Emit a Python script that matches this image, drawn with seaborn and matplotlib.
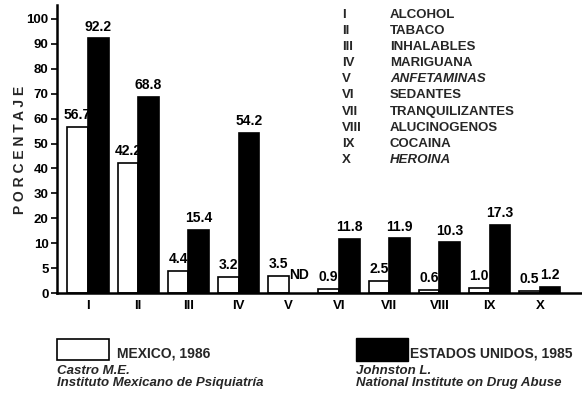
import numpy as np
import pandas as pd
import matplotlib
matplotlib.use("Agg")
import matplotlib.pyplot as plt
from matplotlib.patches import Rectangle
import seaborn as sns

# ---- data ----
categories = ["I", "II", "III", "IV", "V", "VI", "VII", "VIII", "IX", "X"]
mexico = [56.7, 42.2, 4.4, 3.2, 3.5, 0.9, 2.5, 0.6, 1.0, 0.5]
usa = [92.2, 68.8, 15.4, 54.2, np.nan, 11.8, 11.9, 10.3, 17.3, 1.2]
series_names = ["MEXICO, 1986", "ESTADOS UNIDOS, 1985"]
drug_names = ["ALCOHOL", "TABACO", "INHALABLES", "MARIGUANA", "ANFETAMINAS",
              "SEDANTES", "TRANQUILIZANTES", "ALUCINOGENOS", "COCAINA", "HEROINA"]
italic_drugs = ["ANFETAMINAS", "HEROINA"]
y_ticks = [0, 5, 10, 20, 30, 40, 50, 60, 70, 80, 90, 100]
sources = [("Castro M.E.", "Instituto Mexicano de Psiquiatría"),
           ("Johnston L.", "National Institute on Drug Abuse")]

df = pd.DataFrame({
    "cat": categories * 2,
    "val": mexico + usa,
    "serie": [series_names[0]] * len(categories) + [series_names[1]] * len(categories),
})

sns.set_theme(style="white")
plt.rcParams["font.family"] = ["Liberation Sans", "DejaVu Sans"]
plt.rcParams["font.weight"] = "bold"

W, H = 582, 401
fig = plt.figure(figsize=(W / 100, H / 100), dpi=100)
ax = fig.add_axes([57 / W, 1 - 293 / H, 1 - 57 / W, (293 - 5) / H])


def fwd(v):
    v = np.asarray(v, dtype=float)
    return np.where(v <= 10, v / 5.0, 2.0 + (v - 10.0) / 10.0)


def inv(u):
    u = np.asarray(u, dtype=float)
    return np.where(u <= 2, u * 5.0, 10.0 + (u - 2.0) * 10.0)


ax.set_yscale("function", functions=(fwd, inv))

sns.barplot(data=df, x="cat", y="val", hue="serie", order=categories,
            hue_order=series_names,
            palette={series_names[0]: "white", series_names[1]: "black"},
            edgecolor="black", linewidth=1.2, width=0.82, gap=0.0,
            ax=ax, legend=False, errorbar=None)

# value labels
for cont in ax.containers:
    for bar in cont.patches:
        h = bar.get_height()
        if np.isnan(h):
            continue
        ax.annotate(f"{h:.1f}", (bar.get_x() + bar.get_width() / 2, h),
                    xytext=(0, 3.5), textcoords="offset points",
                    ha="center", va="bottom", fontsize=10, color="black",
                    fontweight="bold")
# ND label for missing value
for i, v in enumerate(usa):
    if np.isnan(v):
        ax.annotate("ND", (i + 0.2, 0), xytext=(0, 8), textcoords="offset points",
                    ha="center", va="bottom", fontsize=10, color="black",
                    fontweight="bold")

ax.set_ylim(0, 105.6)
ax.set_xlim(-0.617, 9.84)
ax.set_yticks(y_ticks)
ax.set_yticklabels([str(t) for t in y_ticks], fontweight="bold")
ax.set_xticks(range(len(categories)))
ax.set_xticklabels(categories, fontweight="bold")
ax.tick_params(axis="y", left=True, length=4, width=1.2, pad=2, labelsize=9.5,
               color="black", labelcolor="black", direction="out")
ax.tick_params(axis="x", bottom=False, length=0, pad=5, labelsize=9.5, labelcolor="black")
ax.set_xlabel("")
ax.set_ylabel("")
for s in ["top", "right"]:
    ax.spines[s].set_visible(False)
for s in ["left", "bottom"]:
    ax.spines[s].set_color("black")
    ax.spines[s].set_linewidth(1.8)

# vertical y label
fig.text(20 / W, 1 - 150 / H, "P O R C E N T A J E", rotation=90, ha="center",
         va="center", fontsize=10, fontweight="bold")

# drug key, top right
for k, (num, name) in enumerate(zip(categories, drug_names)):
    y = 1 - (15 + k * 16.1) / H
    fig.text(342 / W, y, num, ha="left", va="center", fontsize=9.5, fontweight="bold")
    fig.text(390 / W, y, name, ha="left", va="center", fontsize=9.5, fontweight="bold",
             style="italic" if name in italic_drugs else "normal")

# bottom legend
fig.patches.append(Rectangle((57 / W, 1 - 360 / H), 52 / W, 21 / H,
                             transform=fig.transFigure, facecolor="white",
                             edgecolor="black", linewidth=1.2))
fig.patches.append(Rectangle((356 / W, 1 - 361 / H), 52 / W, 23 / H,
                             transform=fig.transFigure, facecolor="black",
                             edgecolor="black", linewidth=1.0))
fig.text(117 / W, 1 - 353 / H, series_names[0], ha="left", va="center", fontsize=10,
         fontweight="bold")
fig.text(410 / W, 1 - 353 / H, series_names[1], ha="left", va="center", fontsize=10,
         fontweight="bold")
for x0, (a, b) in zip([57, 356], sources):
    fig.text(x0 / W, 1 - 371 / H, a, ha="left", va="center", fontsize=9.5,
             style="italic", fontweight="bold")
    fig.text(x0 / W, 1 - 383 / H, b, ha="left", va="center", fontsize=9.5,
             style="italic", fontweight="bold")

fig.savefig("out.png", dpi=100)
